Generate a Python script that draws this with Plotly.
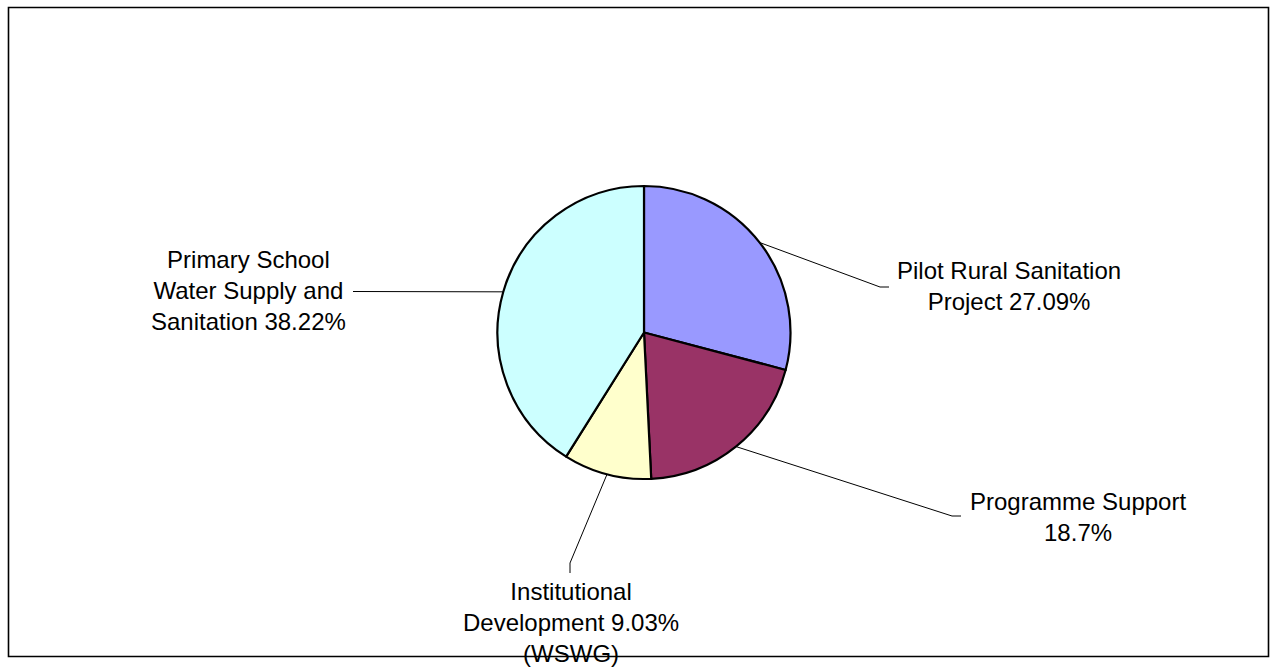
import math
import plotly.graph_objects as go

# ---- data ----
categories = ["Pilot Rural Sanitation Project", "Programme Support",
              "Institutional Development (WSWG)",
              "Primary School Water Supply and Sanitation"]
values = [27.09, 18.7, 9.03, 38.22]
label_templates = ["Pilot Rural Sanitation<br>Project {p}%",
                   "Programme Support<br>{p}%",
                   "Institutional<br>Development {p}%<br>(WSWG)",
                   "Primary School<br>Water Supply and<br>Sanitation {p}%"]
colors = ["#9999FF", "#993366", "#FFFFCC", "#CCFFFF"]

# ---- layout (pixels) ----
W, H = 1278, 669
CX, CY, R = 644.0, 332.5, 146.5
# leader elbow / end points and label centres (layout only)
elbows = [(880, 287), (952, 516), (570, 563), (353, 291.5)]
ends = [(889, 287), (961, 516), (570, 573), (353, 291.5)]
label_pos = [(1009, 286), (1078, 517), (571, 622), (248, 290)]
FONT = dict(family="Liberation Sans, Arial, sans-serif", size=24, color="#000000")


def px(x):
    return x / W


def py(y):
    return 1 - y / H


fig = go.Figure()
fig.add_trace(go.Pie(
    labels=categories, values=values, sort=False, direction="clockwise",
    rotation=0, textinfo="none", hoverinfo="label+percent",
    marker=dict(colors=colors, line=dict(color="#000000", width=2.2)),
    domain=dict(x=[px(CX - R), px(CX + R)], y=[py(CY + R), py(CY - R)]),
    showlegend=False,
))

shapes = []
annotations = []
total = sum(values)
cum = 0.0
for i, v in enumerate(values):
    a = (cum + v / 2) / total * 2 * math.pi
    cum += v
    rx = CX + (R + 0.5) * math.sin(a)
    ry = CY - (R + 0.5) * math.cos(a)
    ex, ey = elbows[i]
    fx, fy = ends[i]
    shapes.append(dict(type="line", xref="paper", yref="paper",
                       x0=px(rx), y0=py(ry), x1=px(ex), y1=py(ey),
                       line=dict(color="#000000", width=1)))
    if (fx, fy) != (ex, ey):
        shapes.append(dict(type="line", xref="paper", yref="paper",
                           x0=px(ex), y0=py(ey), x1=px(fx), y1=py(fy),
                           line=dict(color="#000000", width=1)))
    lx, ly = label_pos[i]
    annotations.append(dict(text=label_templates[i].format(p=f"{v:g}"),
                            xref="paper", yref="paper", x=px(lx), y=py(ly),
                            xanchor="center", yanchor="middle", align="center",
                            showarrow=False, font=FONT))

# chart border
shapes.append(dict(type="rect", xref="paper", yref="paper",
                   x0=px(8.5), x1=px(1268.5), y0=py(656.5), y1=py(7.5),
                   line=dict(color="#000000", width=1.6), layer="below"))

fig.update_layout(
    width=W, height=H, margin=dict(l=0, r=0, t=0, b=0),
    paper_bgcolor="#FFFFFF", plot_bgcolor="#FFFFFF",
    shapes=shapes, annotations=annotations,
)

fig.write_html("out.html")
